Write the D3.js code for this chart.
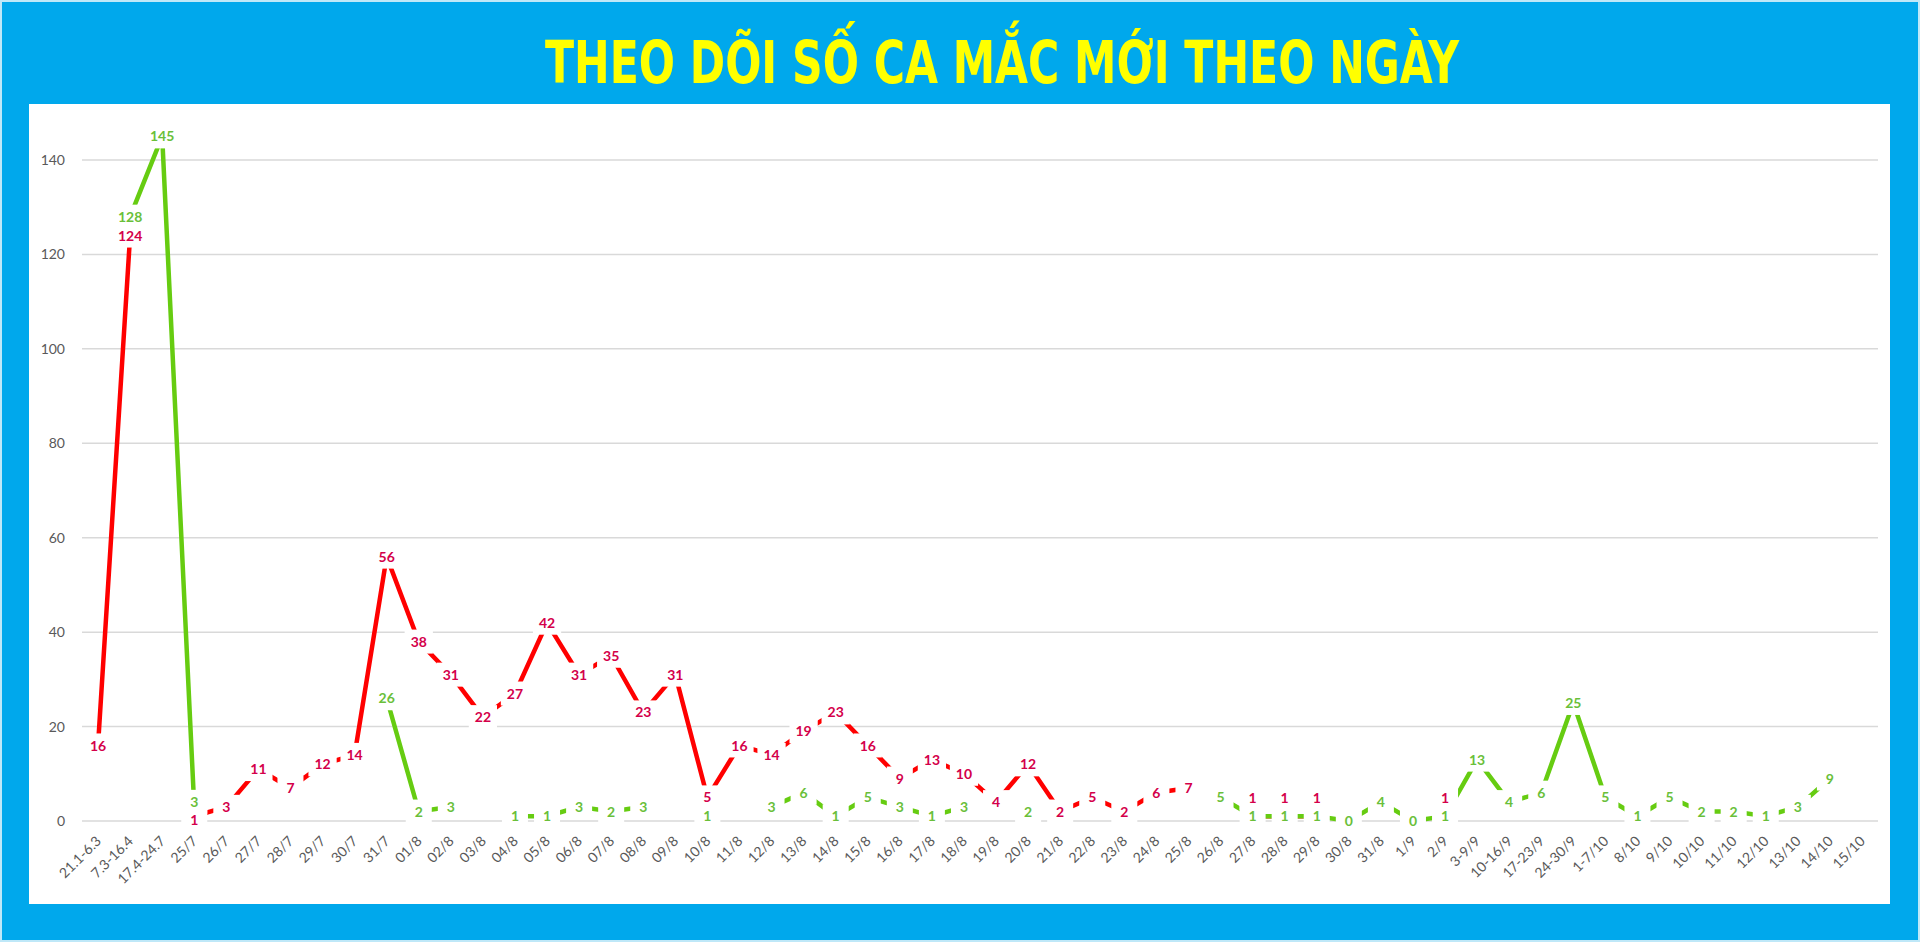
<!DOCTYPE html>
<html>
<head>
<meta charset="utf-8">
<script src="https://cdn.jsdelivr.net/npm/d3@7"></script>
<style>
  html, body { margin: 0; padding: 0; background: #00a8ec; overflow: hidden; }
  .axis-label { font-family: Lato, "Open Sans", sans-serif; font-size: 14px; fill: #595959; }
</style>
</head>
<body>
<div class="chart"></div>
<script>
const W = 1920, H = 942
const panel = ({left: 29, top: 104, right: 1890, bottom: 904})

const titleText = "THEO DÕI SỐ CA MẮC MỚI THEO NGÀY"

const categories = ["21.1-6.3","7.3-16.4","17.4-24.7","25/7","26/7","27/7","28/7","29/7","30/7","31/7",
  "01/8","02/8","03/8","04/8","05/8","06/8","07/8","08/8","09/8","10/8",
  "11/8","12/8","13/8","14/8","15/8","16/8","17/8","18/8","19/8","20/8",
  "21/8","22/8","23/8","24/8","25/8","26/8","27/8","28/8","29/8","30/8","31/8",
  "1/9","2/9","3-9/9","10-16/9","17-23/9","24-30/9","1-7/10",
  "8/10","9/10","10/10","11/10","12/10","13/10","14/10","15/10"]

// red series
const redCases = [16,124,null,1,3,11,7,12,14,56,
  38,31,22,27,42,31,35,23,31,5,
  16,14,19,23,16,9,13,10,4,12,
  2,5,2,6,7,null,1,1,1,null,null,
  null,1,null,null,null,null,null,
  null,null,null,null,null,null,null,null]

// green series
const greenCases = [null,128,145,3,null,null,null,null,null,26,
  2,3,null,1,1,3,2,3,null,1,
  null,3,6,1,5,3,1,3,null,2,
  null,null,null,null,null,5,1,1,1,0,4,
  0,1,13,4,6,25,5,
  1,5,2,2,1,3,9,null]

const yTicks = [0,20,40,60,80,100,120,140]

const svg = d3.select('.chart').append('svg')
    .attr('width', W)
    .attr('height', H)

svg.append('rect')
    .attr('width', W).attr('height', H)
    .attr('fill', '#00a8ec')

// thin light frame round the picture
svg.append('rect')
    .attr('x', 1).attr('y', 1)
    .attr('width', W - 2).attr('height', H - 2)
    .attr('fill', 'none')
    .attr('stroke', '#bfe8f8')
    .attr('stroke-width', 2)

svg.append('rect')
    .attr('x', panel.left).attr('y', panel.top)
    .attr('width', panel.right - panel.left)
    .attr('height', panel.bottom - panel.top)
    .attr('fill', '#fff')

svg.append('text')
    .attr('x', 1002)
    .attr('y', 83)
    .attr('text-anchor', 'middle')
    .attr('textLength', 914)
    .attr('lengthAdjust', 'spacingAndGlyphs')
    .style('font-family', '"Liberation Sans Narrow", "DejaVu Sans Condensed", sans-serif')
    .style('font-weight', 'bold')
    .style('font-size', '58px')
    .style('fill', '#ffff00')
    .text(titleText)

const xScale = d3.scaleBand()
    .domain(categories)
    .range([82, 1878])
    .padding(0)

const yScale = d3.scaleLinear()
    .domain([0, 140])
    .range([821, 160])

const cx = c => xScale(c) + xScale.bandwidth() / 2

// grid
svg.append('g')
    .selectAll('line')
    .data(yTicks)
    .join('line')
    .attr('x1', 82).attr('x2', 1878)
    .attr('y1', d => yScale(d)).attr('y2', d => yScale(d))
    .attr('stroke', '#d9d9d9')
    .attr('stroke-width', 1.5)

const yAxis = d3.axisLeft(yScale).tickValues(yTicks).tickSize(0).tickPadding(0)
svg.append('g')
    .attr('transform', 'translate(65,0)')
    .call(yAxis)
    .call(g => g.select('.domain').remove())
    .call(g => g.selectAll('text').attr('class', 'axis-label').attr('fill', null))

const xAxis = d3.axisBottom(xScale).tickSize(0).tickPadding(0)
svg.append('g')
    .attr('transform', 'translate(0,842)')
    .call(xAxis)
    .call(g => g.select('.domain').remove())
    .call(g => g.selectAll('text')
        .attr('class', 'axis-label')
        .attr('fill', null)
        .attr('y', 0).attr('dy', 0)
        .attr('text-anchor', 'end')
        .attr('transform', 'translate(4,0) rotate(-45)'))

const series = [
  {name: 'red', values: redCases, other: greenCases, line: '#ff0000', label: '#d4004a'},
  {name: 'green', values: greenCases, other: redCases, line: '#66cc11', label: '#6abf3a'}
]

const line = d3.line()
    .defined(d => d.v != null)
    .x(d => cx(d.c))
    .y(d => yScale(d.v))

series.forEach(s => {
  const pts = categories.map((c, i) => ({c: c, v: s.values[i]}))
  svg.append('path')
      .datum(pts)
      .attr('d', line)
      .attr('fill', 'none')
      .attr('stroke', s.line)
      .attr('stroke-width', 4.5)
})

// label y: centred on the point, pushed apart when both series sit close together
function labelY(s, i, v) {
  let y = yScale(v)
  const o = s.other[i]
  if (o == null) return y
  if (o === v) return s.name == 'red' ? y - 18 : y
  if (Math.abs(o - v) <= 3) y += (v > o ? -5 : 4)
  return y
}

// data labels with white boxes (they hide the line round each point)
series.forEach(s => {
  const pts = categories.map((c, i) => ({c: c, v: s.values[i], i: i})).filter(d => d.v != null)
  const g = svg.append('g').attr('class', 'labels-' + s.name)
  const lab = g.selectAll('g')
      .data(pts)
      .join('g')
      .attr('transform', d => `translate(${cx(d.c)},${labelY(s, d.i, d.v)})`)
  lab.append('rect').attr('fill', '#fff')
  const txt = lab.append('text')
      .attr('text-anchor', 'middle')
      .attr('dy', '0.36em')
      .style('font-family', 'Lato, "Open Sans", sans-serif')
      .style('font-size', '14px')
      .style('font-weight', 700)
      .style('fill', s.label)
      .text(d => d.v)
  txt.each(function(d) {
    const w = Math.max(26, this.getComputedTextLength() + 12)
    d3.select(this.parentNode).select('rect')
        .attr('x', -w / 2).attr('y', -12)
        .attr('width', w).attr('height', 24)
  })
})
</script>
</body>
</html>
